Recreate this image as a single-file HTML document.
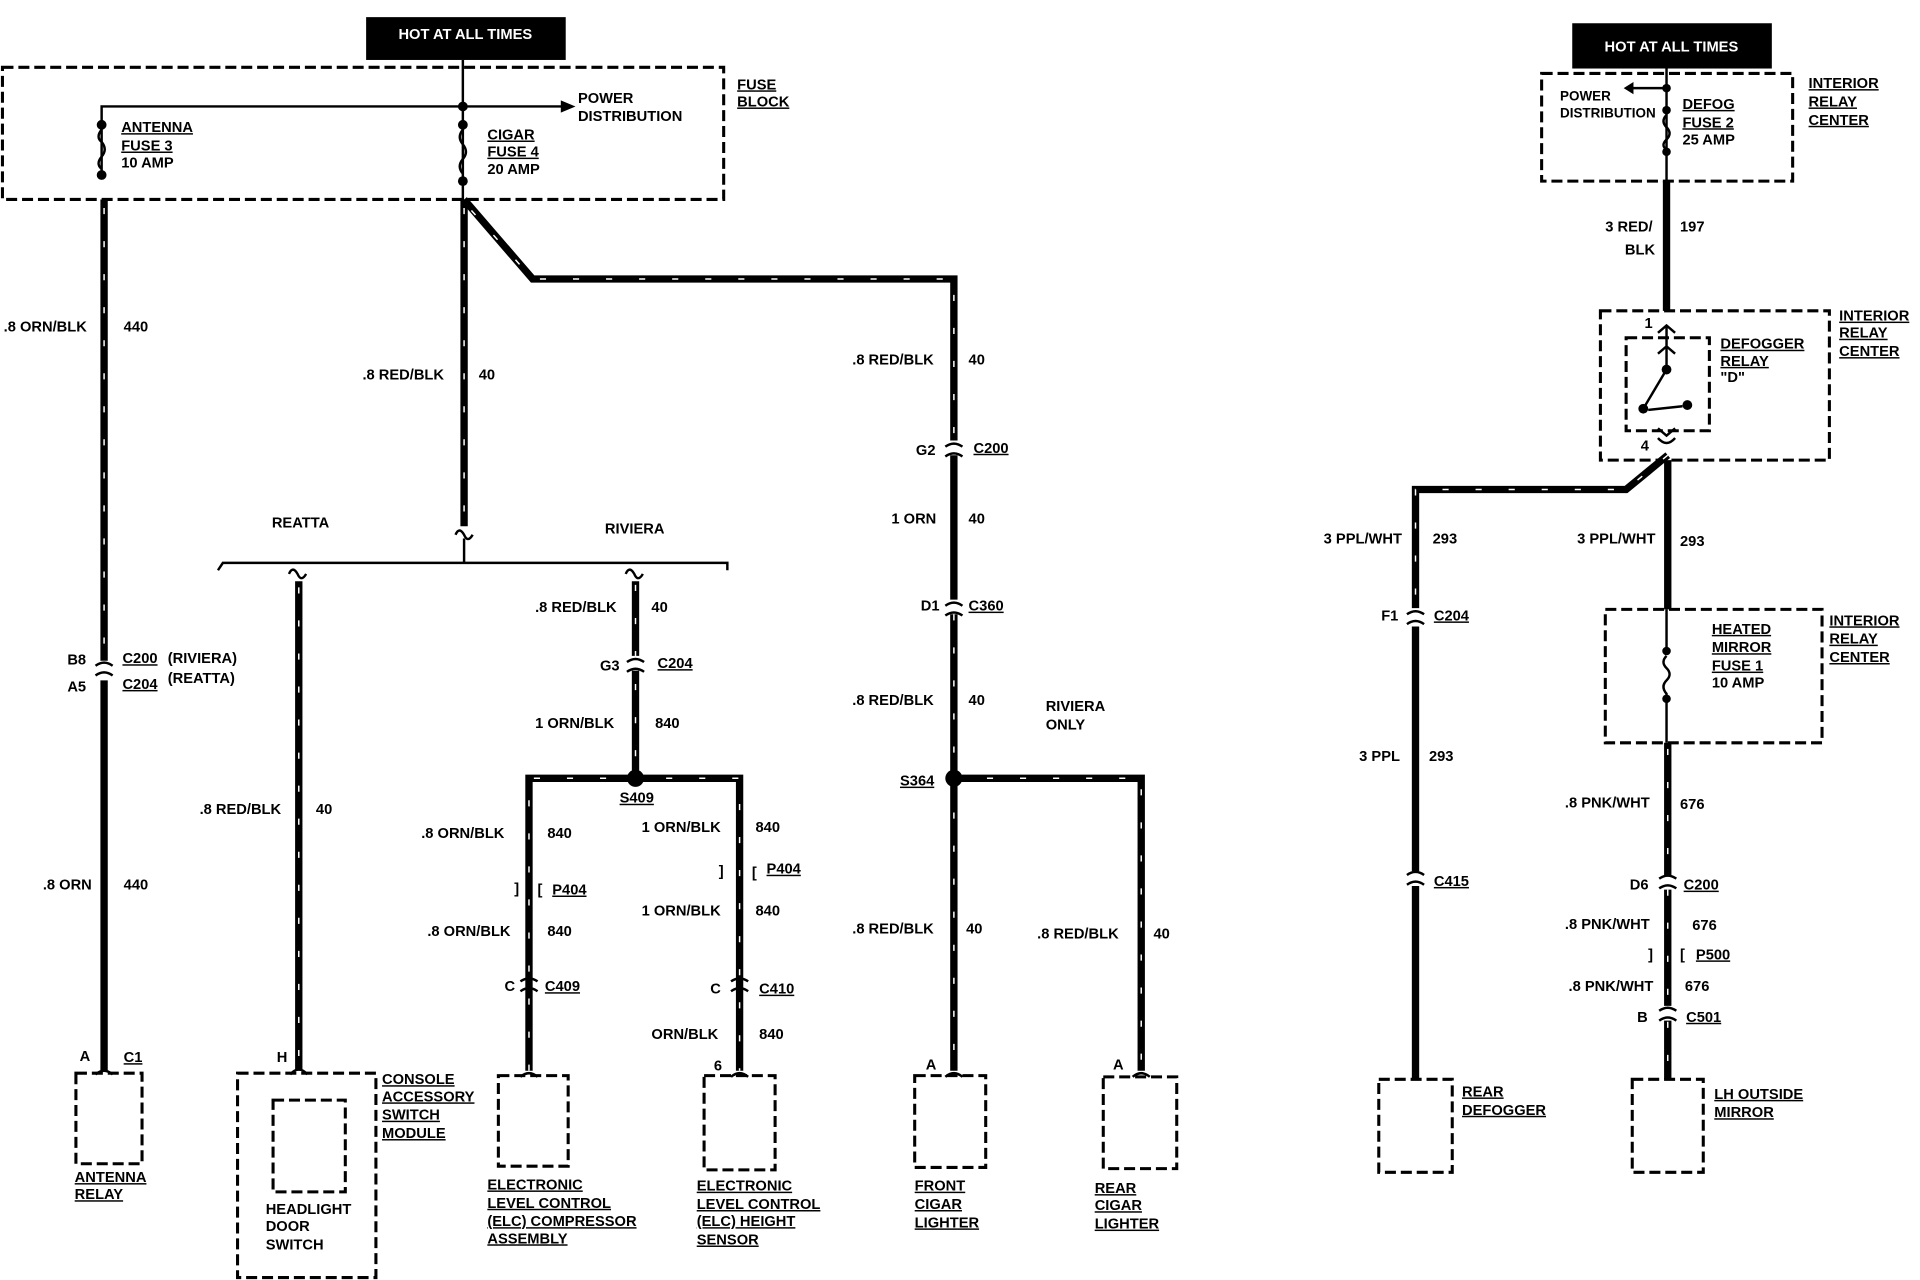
<!DOCTYPE html>
<html><head><style>
html,body{margin:0;padding:0;background:#fff;}
svg{display:block;}
text{font-family:"Liberation Sans",sans-serif;font-weight:bold;font-size:12px;fill:#000;}
.u{text-decoration:underline;}
.w{stroke:#000;stroke-width:6;fill:none;}
.s{stroke:#fff;stroke-width:1.2;stroke-dasharray:5 22;fill:none;}
.d{stroke:#000;stroke-width:2.5;stroke-dasharray:9 4;fill:none;}
.t{stroke:#000;stroke-width:2;fill:none;}
</style></head><body>
<svg width="1920" height="1280" viewBox="0 0 1568 1046" preserveAspectRatio="none" xmlns="http://www.w3.org/2000/svg">
<rect width="1568" height="1046" fill="#fff"/>
<rect x="299" y="14" width="163" height="35" fill="#000"/>
<text x="380" y="32" text-anchor="middle" style="fill:#fff">HOT AT ALL TIMES</text>
<rect class="d" x="2" y="55" width="589" height="108"/>
<text class="u" x="602" y="73">FUSE</text><text class="u" x="602" y="87">BLOCK</text>
<line class="t" x1="378" y1="49" x2="378" y2="163"/>
<polyline class="t" points="83,143 83,87 460,87"/>
<polygon points="458,82 470,87 458,92"/>
<text x="472" y="84">POWER</text><text x="472" y="99">DISTRIBUTION</text>
<circle cx="83" cy="102" r="4"/><circle cx="83" cy="143" r="4"/>
<path class="t" d="M83,106 q-5,6 0,10 q5,6 0,12 q-5,6 0,10"/>
<circle cx="378" cy="87" r="4"/><circle cx="378" cy="102" r="4"/><circle cx="378" cy="148" r="4"/>
<path class="t" d="M378,106 q-5,6 0,12 q5,6 0,12 q-5,6 0,12"/>
<text class="u" x="99" y="108">ANTENNA</text><text class="u" x="99" y="123">FUSE 3</text><text x="99" y="137">10 AMP</text>
<text class="u" x="398" y="114">CIGAR</text><text class="u" x="398" y="128">FUSE 4</text><text x="398" y="142">20 AMP</text>
<line class="w" x1="85" y1="163" x2="85" y2="540"/><line class="w" x1="85" y1="556" x2="85" y2="875"/>
<line class="s" x1="85" y1="170" x2="85" y2="540"/>
<path class="t" d="M78,544 q7,-5 14,0 M78,552 q7,-5 14,0"/>
<text x="3" y="271">.8 ORN/BLK</text><text x="101" y="271">440</text>
<text x="55" y="543">B8</text><text class="u" x="100" y="542">C200</text><text x="137" y="542">(RIVIERA)</text>
<text x="55" y="565">A5</text><text class="u" x="100" y="563">C204</text><text x="137" y="558">(REATTA)</text>
<text x="35" y="727">.8 ORN</text><text x="101" y="727">440</text>
<text x="65" y="867">A</text><text class="u" x="101" y="868">C1</text>
<path class="t" d="M78,878 q7,-6 14,0"/>
<rect class="d" x="62" y="877" width="54" height="74"/>
<text class="u" x="61" y="966">ANTENNA</text><text class="u" x="61" y="980">RELAY</text>
<line class="w" x1="379" y1="163" x2="379" y2="430"/><line class="s" x1="379" y1="170" x2="379" y2="430"/>
<path class="t" d="M372,437 q3,-7 7,0 q3,7 7,0"/>
<text x="296" y="310">.8 RED/BLK</text><text x="391" y="310">40</text>
<polyline class="t" points="178,466 182,460 594,460 594,466"/>
<line class="t" x1="379" y1="440" x2="379" y2="460"/>
<text x="222" y="431">REATTA</text><text x="494" y="436">RIVIERA</text>
<path class="t" d="M236,469 q3,-7 7,0 q3,7 7,0"/>
<line class="w" x1="244" y1="475" x2="244" y2="875"/><line class="s" x1="244" y1="480" x2="244" y2="875"/>
<text x="163" y="665">.8 RED/BLK</text><text x="258" y="665">40</text>
<text x="226" y="868">H</text>
<path class="t" d="M237,878 q7,-8 14,0"/>
<rect class="d" x="194" y="877" width="113" height="167"/>
<rect class="d" x="223" y="899" width="59" height="75"/>
<text class="u" x="312" y="886">CONSOLE</text><text class="u" x="312" y="900">ACCESSORY</text><text class="u" x="312" y="915">SWITCH</text><text class="u" x="312" y="930">MODULE</text>
<text x="217" y="992">HEADLIGHT</text><text x="217" y="1006">DOOR</text><text x="217" y="1021">SWITCH</text>
<path class="t" d="M511,469 q3,-7 7,0 q3,7 7,0"/>
<line class="w" x1="519" y1="475" x2="519" y2="536"/><line class="w" x1="519" y1="548" x2="519" y2="636"/>
<line class="s" x1="519" y1="478" x2="519" y2="636"/>
<path class="t" d="M512,541 q7,-5 14,0 M512,549 q7,-5 14,0"/>
<text x="437" y="500">.8 RED/BLK</text><text x="532" y="500">40</text>
<text x="490" y="548">G3</text><text class="u" x="537" y="546">C204</text>
<text x="437" y="595">1 ORN/BLK</text><text x="535" y="595">840</text>
<polyline class="w" points="432,875 432,636 604,636 604,875"/>
<polyline class="s" points="432,875 432,636 604,636 604,875"/>
<circle cx="519" cy="636" r="7"/>
<text class="u" x="506" y="656">S409</text>
<text x="344" y="685">.8 ORN/BLK</text><text x="447" y="685">840</text>
<text x="524" y="680">1 ORN/BLK</text><text x="617" y="680">840</text>
<text x="420" y="730">]</text><text x="439" y="731">[</text><text class="u" x="451" y="731">P404</text>
<text x="587" y="716">]</text><text x="614" y="717">[</text><text class="u" x="626" y="714">P404</text>
<text x="524" y="748">1 ORN/BLK</text><text x="617" y="748">840</text>
<text x="349" y="765">.8 ORN/BLK</text><text x="447" y="765">840</text>
<path class="t" d="M425,802 q7,-5 14,0 M425,810 q7,-5 14,0 M597,802 q7,-5 14,0 M597,810 q7,-5 14,0"/>
<text x="412" y="810">C</text><text class="u" x="445" y="810">C409</text>
<text x="580" y="812">C</text><text class="u" x="620" y="812">C410</text>
<text x="532" y="849">ORN/BLK</text><text x="620" y="849">840</text>
<text x="583" y="875">6</text>
<path class="t" d="M425,880 q7,-6 14,0 M597,880 q7,-6 14,0"/>
<rect class="d" x="407" y="879" width="57" height="74"/>
<rect class="d" x="575" y="879" width="58" height="77"/>
<text class="u" x="398" y="972">ELECTRONIC</text><text class="u" x="398" y="987">LEVEL CONTROL</text><text class="u" x="398" y="1002">(ELC) COMPRESSOR</text><text class="u" x="398" y="1016">ASSEMBLY</text>
<text class="u" x="569" y="973">ELECTRONIC</text><text class="u" x="569" y="988">LEVEL CONTROL</text><text class="u" x="569" y="1002">(ELC) HEIGHT</text><text class="u" x="569" y="1017">SENSOR</text>
<polyline class="w" points="379,163 435,228 779,228 779,360"/>
<polyline class="s" points="385,172 435,228 779,228 779,360"/>
<line class="w" x1="779" y1="372" x2="779" y2="490"/><line class="w" x1="779" y1="502" x2="779" y2="875"/>
<line class="s" x1="779" y1="502" x2="779" y2="875"/>
<path class="t" d="M772,365 q7,-5 14,0 M772,373 q7,-5 14,0 M772,495 q7,-5 14,0 M772,503 q7,-5 14,0"/>
<text x="696" y="298">.8 RED/BLK</text><text x="791" y="298">40</text>
<text x="748" y="372">G2</text><text class="u" x="795" y="370">C200</text>
<text x="728" y="428">1 ORN</text><text x="791" y="428">40</text>
<text x="752" y="499">D1</text><text class="u" x="791" y="499">C360</text>
<text x="696" y="576">.8 RED/BLK</text><text x="791" y="576">40</text>
<text x="854" y="581">RIVIERA</text><text x="854" y="596">ONLY</text>
<polyline class="w" points="779,636 932,636 932,875"/><polyline class="s" points="779,636 932,636 932,875"/>
<circle cx="779" cy="636" r="7"/>
<text class="u" x="735" y="642">S364</text>
<text x="696" y="763">.8 RED/BLK</text><text x="789" y="763">40</text>
<text x="847" y="767">.8 RED/BLK</text><text x="942" y="767">40</text>
<text x="756" y="874">A</text><text x="909" y="874">A</text>
<path class="t" d="M772,880 q7,-6 14,0 M925,880 q7,-6 14,0"/>
<rect class="d" x="747" y="879" width="58" height="75"/>
<rect class="d" x="901" y="880" width="60" height="75"/>
<text class="u" x="747" y="973">FRONT</text><text class="u" x="747" y="988">CIGAR</text><text class="u" x="747" y="1003">LIGHTER</text>
<text class="u" x="894" y="975">REAR</text><text class="u" x="894" y="989">CIGAR</text><text class="u" x="894" y="1004">LIGHTER</text>
<rect x="1284" y="19" width="163" height="37" fill="#000"/>
<text x="1365" y="42" text-anchor="middle" style="fill:#fff">HOT AT ALL TIMES</text>
<rect class="d" x="1259" y="60" width="205" height="88"/>
<text class="u" x="1477" y="72">INTERIOR</text><text class="u" x="1477" y="87">RELAY</text><text class="u" x="1477" y="102">CENTER</text>
<line class="t" x1="1361" y1="56" x2="1361" y2="148"/>
<line class="t" x1="1361" y1="72" x2="1332" y2="72"/><polygon points="1334,67 1326,72 1334,77"/>
<text x="1274" y="82" style="font-size:11px">POWER</text><text x="1274" y="96" style="font-size:11px">DISTRIBUTION</text>
<circle cx="1361" cy="72" r="3.5"/><circle cx="1361" cy="90" r="3.5"/><circle cx="1361" cy="124" r="3.5"/>
<path class="t" d="M1361,94 q-5,5 0,10 q5,5 0,10 q-5,5 0,8"/>
<text class="u" x="1374" y="89">DEFOG</text><text class="u" x="1374" y="104">FUSE 2</text><text x="1374" y="118">25 AMP</text>
<line class="w" x1="1361" y1="148" x2="1361" y2="254"/>
<text x="1311" y="189">3 RED/</text><text x="1372" y="189">197</text><text x="1327" y="208">BLK</text>
<rect class="d" x="1307" y="254" width="187" height="122"/>
<rect class="d" x="1328" y="276" width="68" height="76"/>
<text class="u" x="1502" y="262">INTERIOR</text><text class="u" x="1502" y="276">RELAY</text><text class="u" x="1502" y="291">CENTER</text>
<text class="u" x="1405" y="285">DEFOGGER</text><text class="u" x="1405" y="299">RELAY</text><text x="1405" y="312">"D"</text>
<text x="1343" y="268">1</text><text x="1340" y="368">4</text>
<path class="t" d="M1354,272 l7,-6 l7,6 M1354,289 l7,-6 l7,6 M1361,266 L1361,302"/>
<circle cx="1361" cy="302" r="4"/><circle cx="1342" cy="334" r="4"/><circle cx="1378" cy="331" r="4"/>
<line class="t" x1="1361" y1="302" x2="1342" y2="334"/><line class="t" x1="1346" y1="335" x2="1374" y2="332"/>
<path class="t" d="M1354,350 l7,6 l7,-6 M1354,358 q7,8 14,0"/>
<line class="w" x1="1362" y1="376" x2="1362" y2="498"/>
<polyline class="w" points="1362,372 1328,400 1156,400 1156,497"/>
<polyline class="s" points="1362,372 1328,400 1156,400 1156,497"/>
<text x="1081" y="444">3 PPL/WHT</text><text x="1170" y="444">293</text>
<text x="1288" y="444">3 PPL/WHT</text><text x="1372" y="446">293</text>
<path class="t" d="M1149,502 q7,-5 14,0 M1149,510 q7,-5 14,0"/>
<text x="1128" y="507">F1</text><text class="u" x="1171" y="507">C204</text>
<line class="w" x1="1156" y1="512" x2="1156" y2="712"/><line class="w" x1="1156" y1="724" x2="1156" y2="882"/>
<path class="t" d="M1149,715 q7,-5 14,0 M1149,723 q7,-5 14,0"/>
<text x="1110" y="622">3 PPL</text><text x="1167" y="622">293</text>
<text class="u" x="1171" y="724">C415</text>
<rect class="d" x="1126" y="882" width="60" height="76"/>
<text class="u" x="1194" y="896">REAR</text><text class="u" x="1194" y="911">DEFOGGER</text>
<rect class="d" x="1311" y="498" width="177" height="109"/>
<text class="u" x="1494" y="511">INTERIOR</text><text class="u" x="1494" y="526">RELAY</text><text class="u" x="1494" y="541">CENTER</text>
<text class="u" x="1398" y="518">HEATED</text><text class="u" x="1398" y="533">MIRROR</text><text class="u" x="1398" y="548">FUSE 1</text><text x="1398" y="562">10 AMP</text>
<line class="t" x1="1361" y1="498" x2="1361" y2="532"/>
<circle cx="1361" cy="532" r="3.5"/><circle cx="1361" cy="571" r="3.5"/>
<path class="t" d="M1361,536 q-5,5 0,10 q5,5 0,10 q-5,5 0,11 L1361,607"/>
<line class="w" x1="1362" y1="607" x2="1362" y2="715"/><line class="s" x1="1362" y1="612" x2="1362" y2="715"/>
<line class="w" x1="1362" y1="727" x2="1362" y2="822"/><line class="w" x1="1362" y1="834" x2="1362" y2="882"/>
<line class="s" x1="1362" y1="727" x2="1362" y2="882"/>
<path class="t" d="M1355,718 q7,-5 14,0 M1355,726 q7,-5 14,0 M1355,826 q7,-5 14,0 M1355,834 q7,-5 14,0"/>
<text x="1278" y="660">.8 PNK/WHT</text><text x="1372" y="661">676</text>
<text x="1331" y="727">D6</text><text class="u" x="1375" y="727">C200</text>
<text x="1278" y="759">.8 PNK/WHT</text><text x="1382" y="760">676</text>
<text x="1346" y="784">]</text><text x="1372" y="784">[</text><text class="u" x="1385" y="784">P500</text>
<text x="1281" y="810">.8 PNK/WHT</text><text x="1376" y="810">676</text>
<text x="1337" y="835">B</text><text class="u" x="1377" y="835">C501</text>
<rect class="d" x="1333" y="882" width="58" height="76"/>
<text class="u" x="1400" y="898">LH OUTSIDE</text><text class="u" x="1400" y="913">MIRROR</text>
</svg>
</body></html>
